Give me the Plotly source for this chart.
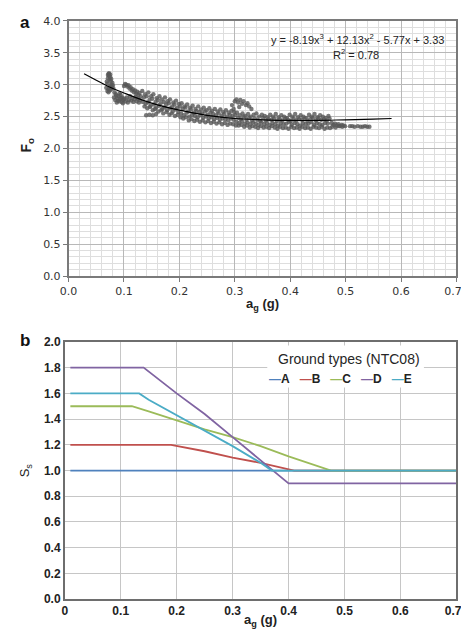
import plotly.graph_objects as go

# ---------------- Panel (a): Fo vs ag scatter ----------------
# cluster near ag ~0.07-0.08
a_x = [0.068,0.070,0.071,0.072,0.073,0.074,0.075,0.076,0.077,0.078,0.070,0.072,0.074,0.076,0.078,0.080,0.069,0.071,0.073,0.075,0.077,0.079,0.081,0.072,0.074]
a_y = [2.95,3.02,3.10,3.17,3.14,3.08,3.12,3.05,3.00,2.98,2.90,2.93,2.97,2.92,2.95,2.99,3.05,3.15,3.18,3.16,3.09,3.03,2.94,2.88,2.91]
# lower group 0.08-0.10
b_x = [0.082,0.084,0.085,0.087,0.088,0.090,0.091,0.093,0.094,0.096,0.097,0.099,0.083,0.086,0.089,0.092,0.095,0.098]
b_y = [2.80,2.76,2.85,2.72,2.79,2.82,2.74,2.77,2.84,2.73,2.80,2.76,2.88,2.83,2.75,2.86,2.79,2.71]
# 0.10-0.13
c_x = [0.100,0.102,0.104,0.106,0.108,0.110,0.112,0.114,0.116,0.118,0.120,0.122,0.124,0.126,0.128,0.130,
       0.101,0.103,0.105,0.107,0.109,0.111,0.113,0.115,0.117,0.119,0.121,0.123,0.125,0.127,0.129]
c_y = [2.98,3.01,3.00,2.97,2.99,2.94,2.96,2.91,2.93,2.88,2.91,2.86,2.89,2.84,2.87,2.82,
       2.78,2.74,2.80,2.72,2.76,2.82,2.75,2.79,2.73,2.77,2.81,2.74,2.78,2.72,2.76]
# 0.133-0.20 (four staggered rows)
d_x1 = [0.133,0.138,0.144,0.149,0.153,0.159,0.164,0.168,0.174,0.179,0.183,0.189,0.194,0.199]
d_x2 = [0.136,0.141,0.146,0.151,0.157,0.161,0.166,0.172,0.176,0.181,0.187,0.191,0.196,0.201]
d_x3 = [0.134,0.139,0.143,0.148,0.154,0.158,0.163,0.169,0.173,0.178,0.184,0.188,0.193,0.198]
d_x4 = [0.137,0.142,0.147,0.152,0.156,0.162,0.167,0.171,0.177,0.182,0.186,0.192,0.197,0.202]
d_y1 = [2.90,2.85,2.88,2.82,2.85,2.79,2.82,2.77,2.80,2.74,2.77,2.72,2.75,2.70]
d_y2 = [2.80,2.82,2.76,2.78,2.73,2.76,2.71,2.73,2.69,2.71,2.66,2.69,2.64,2.66]
d_y3 = [2.73,2.70,2.72,2.67,2.69,2.64,2.67,2.62,2.64,2.60,2.63,2.58,2.61,2.57]
d_y4 = [2.66,2.63,2.65,2.60,2.62,2.58,2.60,2.55,2.57,2.53,2.55,2.51,2.53,2.49]
iso_x = [0.140,0.146,0.152,0.158]
iso_y = [2.52,2.53,2.52,2.54]
# 0.203-0.302 (four staggered rows)
e_x1 = [0.204,0.209,0.214,0.219,0.224,0.229,0.234,0.239,0.244,0.249,0.254,0.259,0.264,0.269,0.274,0.279,0.284,0.289,0.294,0.299]
e_x2 = [0.206,0.211,0.216,0.221,0.226,0.231,0.236,0.241,0.246,0.251,0.256,0.261,0.266,0.271,0.276,0.281,0.286,0.291,0.296,0.301]
e_x3 = [0.203,0.208,0.213,0.218,0.223,0.228,0.233,0.238,0.243,0.248,0.253,0.258,0.263,0.268,0.273,0.278,0.283,0.288,0.293,0.298]
e_x4 = [0.207,0.212,0.217,0.222,0.227,0.232,0.237,0.242,0.247,0.252,0.257,0.262,0.267,0.272,0.277,0.282,0.287,0.292,0.297,0.302]
e_y1 = [2.71,2.66,2.69,2.64,2.67,2.62,2.66,2.61,2.64,2.60,2.63,2.59,2.62,2.58,2.61,2.57,2.60,2.56,2.59,2.57]
e_y2 = [2.62,2.64,2.58,2.61,2.56,2.59,2.57,2.55,2.58,2.53,2.56,2.54,2.52,2.55,2.51,2.54,2.50,2.53,2.51,2.52]
e_y3 = [2.55,2.52,2.56,2.50,2.53,2.51,2.49,2.52,2.48,2.50,2.47,2.49,2.46,2.48,2.45,2.47,2.46,2.44,2.47,2.45]
e_y4 = [2.47,2.49,2.44,2.46,2.43,2.45,2.42,2.44,2.41,2.43,2.40,2.42,2.39,2.41,2.38,2.40,2.37,2.39,2.38,2.36]
# bump near 0.30-0.33
f_x = [0.295,0.300,0.303,0.306,0.310,0.313,0.316,0.320,0.323,0.326,0.330,0.298,0.308]
f_y = [2.68,2.74,2.77,2.72,2.76,2.70,2.74,2.68,2.71,2.66,2.62,2.62,2.65]
# 0.303-0.472 (four staggered rows)
g_x1 = [0.304,0.309,0.314,0.319,0.324,0.329,0.334,0.339,0.344,0.349,0.354,0.359,0.364,0.369,0.374,0.379,0.384,
        0.389,0.394,0.399,0.404,0.409,0.414,0.419,0.424,0.429,0.434,0.439,0.444,0.449,0.454,0.459,0.464,0.469]
g_x2 = [0.306,0.311,0.316,0.321,0.326,0.331,0.336,0.341,0.346,0.351,0.356,0.361,0.366,0.371,0.376,0.381,0.386,
        0.391,0.396,0.401,0.406,0.411,0.416,0.421,0.426,0.431,0.436,0.441,0.446,0.451,0.456,0.461,0.466,0.471]
g_x3 = [0.303,0.308,0.313,0.318,0.323,0.328,0.333,0.338,0.343,0.348,0.353,0.358,0.363,0.368,0.373,0.378,0.383,
        0.388,0.393,0.398,0.403,0.408,0.413,0.418,0.423,0.428,0.433,0.438,0.443,0.448,0.453,0.458,0.463,0.468]
g_x4 = [0.307,0.312,0.317,0.322,0.327,0.332,0.337,0.342,0.347,0.352,0.357,0.362,0.367,0.372,0.377,0.382,0.387,
        0.392,0.397,0.402,0.407,0.412,0.417,0.422,0.427,0.432,0.437,0.442,0.447,0.452,0.457,0.462,0.467,0.472]
g_y1 = [2.56,2.52,2.55,2.51,2.54,2.50,2.53,2.55,2.50,2.53,2.51,2.49,2.53,2.50,2.54,2.49,2.52,
        2.50,2.48,2.53,2.50,2.54,2.49,2.52,2.50,2.48,2.53,2.50,2.54,2.49,2.52,2.50,2.48,2.51]
g_y2 = [2.48,2.46,2.50,2.45,2.48,2.44,2.47,2.45,2.43,2.48,2.44,2.46,2.45,2.47,2.43,2.46,2.44,
        2.47,2.45,2.43,2.47,2.44,2.46,2.45,2.47,2.43,2.46,2.48,2.44,2.47,2.45,2.46,2.44,2.47]
g_y3 = [2.42,2.40,2.43,2.39,2.41,2.38,2.41,2.39,2.37,2.41,2.38,2.40,2.37,2.40,2.38,2.36,2.40,
        2.38,2.39,2.41,2.37,2.40,2.38,2.36,2.40,2.38,2.39,2.41,2.37,2.40,2.38,2.37,2.40,2.39]
g_y4 = [2.36,2.37,2.34,2.36,2.33,2.35,2.34,2.32,2.35,2.33,2.34,2.32,2.35,2.33,2.31,2.34,2.32,
        2.33,2.31,2.34,2.32,2.33,2.31,2.34,2.32,2.33,2.31,2.34,2.33,2.32,2.34,2.31,2.33,2.32]
# 0.475-0.50 and tail
h_x = [0.475,0.478,0.481,0.484,0.487,0.490,0.493,0.496,0.499,0.476,0.482,0.488,0.494]
h_y = [2.40,2.37,2.39,2.36,2.38,2.35,2.37,2.36,2.35,2.34,2.33,2.35,2.34]
t_x = [0.508,0.512,0.516,0.522,0.527,0.531,0.535,0.539,0.543]
t_y = [2.35,2.35,2.34,2.35,2.34,2.34,2.35,2.34,2.34]

# polynomial trend line
fit_x = [0.028,0.05,0.07,0.10,0.15,0.20,0.25,0.30,0.35,0.40,0.45,0.50,0.55,0.583]
fit_y = [3.17,3.07,2.98,2.87,2.71,2.60,2.52,2.47,2.45,2.44,2.44,2.45,2.46,2.47]

x_ticks = [0.0, 0.1, 0.2, 0.3, 0.4, 0.5, 0.6, 0.7]
x_ticktext_a = ["0.0", "0.1", "0.2", "0.3", "0.4", "0.5", "0.6", "0.7&nbsp;&nbsp;"]
x_ticktext_b = ["0", "0.1", "0.2", "0.3", "0.4", "0.5", "0.6", "0.7&nbsp;&nbsp;"]

# ---------------- Panel (b): Ss vs ag ----------------
ground_types = ["A", "B", "C", "D", "E"]
A_x = [0.01, 0.70]
A_y = [1.00, 1.00]
B_x = [0.01, 0.19, 0.25, 0.30, 0.35, 0.41, 0.70]
B_y = [1.20, 1.20, 1.15, 1.10, 1.06, 1.00, 1.00]
C_x = [0.01, 0.12, 0.15, 0.20, 0.25, 0.30, 0.35, 0.40, 0.45, 0.476, 0.70]
C_y = [1.50, 1.50, 1.46, 1.39, 1.32, 1.26, 1.19, 1.11, 1.04, 1.00, 1.00]
D_x = [0.01, 0.141, 0.20, 0.25, 0.30, 0.35, 0.40, 0.70]
D_y = [1.80, 1.80, 1.60, 1.44, 1.26, 1.08, 0.90, 0.90]
E_x = [0.01, 0.133, 0.15, 0.20, 0.25, 0.30, 0.35, 0.37, 0.70]
E_y = [1.60, 1.60, 1.55, 1.43, 1.31, 1.19, 1.06, 1.00, 1.00]
colors = ["#4F81BD", "#C0504D", "#9BBB59", "#8064A2", "#4BACC6"]

W, H = 469, 636
def px(x):
    return x / W
def py(y):
    return 1 - y / H

sc_x = (a_x + b_x + c_x + d_x1 + d_x2 + d_x3 + d_x4 + iso_x + e_x1 + e_x2 + e_x3 + e_x4
        + f_x + g_x1 + g_x2 + g_x3 + g_x4 + h_x + t_x)
sc_y = (a_y + b_y + c_y + d_y1 + d_y2 + d_y3 + d_y4 + iso_y + e_y1 + e_y2 + e_y3 + e_y4
        + f_y + g_y1 + g_y2 + g_y3 + g_y4 + h_y + t_y)

fig = go.Figure()
fig.add_trace(go.Scatter(x=sc_x, y=sc_y, mode="markers", name="data",
                         marker=dict(size=4.4, color="#585858", opacity=0.8, line=dict(width=0)),
                         xaxis="x", yaxis="y", showlegend=False))
fig.add_trace(go.Scatter(x=fit_x, y=fit_y, mode="lines", name="fit", line_shape="spline",
                         line=dict(color="#000000", width=1.2),
                         xaxis="x", yaxis="y", showlegend=False))

series = [(A_x, A_y), (B_x, B_y), (C_x, C_y), (D_x, D_y), (E_x, E_y)]
for name, (sx, sy), col in zip(ground_types, series, colors):
    fig.add_trace(go.Scatter(x=sx, y=sy, mode="lines", name=name,
                             line=dict(color=col, width=1.8),
                             xaxis="x2", yaxis="y2", showlegend=False))

tick_font_a = dict(family="DejaVu Sans", size=11, color="#333333")
tick_font_b = dict(family="Liberation Sans", size=12, color="#222222", weight="bold")

fig.update_layout(
    width=W, height=H,
    margin=dict(l=0, r=0, t=0, b=0),
    paper_bgcolor="white", plot_bgcolor="white",
    showlegend=False,
    xaxis=dict(domain=[px(54), px(460)], range=[0, 0.7], tickvals=x_ticks, ticktext=x_ticktext_a,
               ticklabeloverflow="allow",
               showgrid=True, gridcolor="#b8b8b8", gridwidth=1,
               minor=dict(dtick=0.02, showgrid=True, gridcolor="#dedede", gridwidth=1),
               showline=True, mirror=True, linecolor="#7a7a7a", linewidth=1.5,
               ticks="outside", ticklen=4, tickcolor="#7a7a7a",
               zeroline=False, tickfont=tick_font_a, anchor="y"),
    yaxis=dict(domain=[py(267), py(6)], range=[0, 4], tick0=0, dtick=0.5, tickformat=".1f",
               showgrid=True, gridcolor="#b8b8b8", gridwidth=1,
               minor=dict(dtick=0.1, showgrid=True, gridcolor="#dedede", gridwidth=1),
               showline=True, mirror=True, linecolor="#7a7a7a", linewidth=1.5,
               ticks="outside", ticklen=4, tickcolor="#7a7a7a",
               zeroline=False, tickfont=tick_font_a, anchor="x"),
    xaxis2=dict(domain=[px(50), px(460)], range=[0, 0.7], tickvals=x_ticks, ticktext=x_ticktext_b,
                ticklabeloverflow="allow",
                showgrid=True, gridcolor="#c6c6c6", gridwidth=1,
                showline=True, mirror=True, linecolor="#6e6e6e", linewidth=1.5,
                ticks="", zeroline=False, tickfont=tick_font_b, anchor="y2"),
    yaxis2=dict(domain=[py(597.3), py(334.3)], range=[0, 2], tick0=0, dtick=0.2, tickformat=".1f",
                showgrid=True, gridcolor="#c6c6c6", gridwidth=1,
                showline=True, mirror=True, linecolor="#6e6e6e", linewidth=1.5,
                ticks="", zeroline=False, tickfont=tick_font_b, anchor="x2"),
)

ann = []
def add_text(x, y, text, size, bold=False, angle=0, family="Liberation Sans", color="#222222"):
    ann.append(dict(x=px(x), y=py(y), xref="paper", yref="paper", text=text, showarrow=False,
                    xanchor="center", yanchor="middle", textangle=angle,
                    font=dict(family=family, size=size, color=color, weight="bold" if bold else "normal")))

add_text(8, 8, "a", 17, bold=True, color="#111111")
add_text(8, 333, "b", 17, bold=True, color="#111111")
add_text(11, 133, "F<sub>o</sub>", 14, bold=True, angle=-90)
add_text(257, 296, "a<sub>g</sub> (g)", 13, bold=True)
add_text(9, 466, "S<sub>s</sub>", 13, angle=-90)
add_text(255, 619, "a<sub>g</sub> (g)", 13, bold=True)
add_text(356, 25, "y = -8.19x<sup>3</sup> + 12.13x<sup>2</sup> - 5.77x + 3.33", 11)
add_text(355, 40, "R<sup>2</sup> = 0.78", 11)

# legend block
add_text(348, 352, "Ground types (NTC08)", 14, color="#262626")
items = "&nbsp;&nbsp;&nbsp;".join(
    f'<span style="color:{c}">—</span>{n}' for n, c in zip(ground_types, colors))
add_text(339, 372, items, 12, bold=True)

fig.update_layout(annotations=ann)
fig.add_shape(type="rect", xref="paper", yref="paper",
              x0=px(262), x1=px(426), y0=py(381), y1=py(338),
              fillcolor="white", line=dict(width=0), layer="above")

fig.write_html("out.html")
